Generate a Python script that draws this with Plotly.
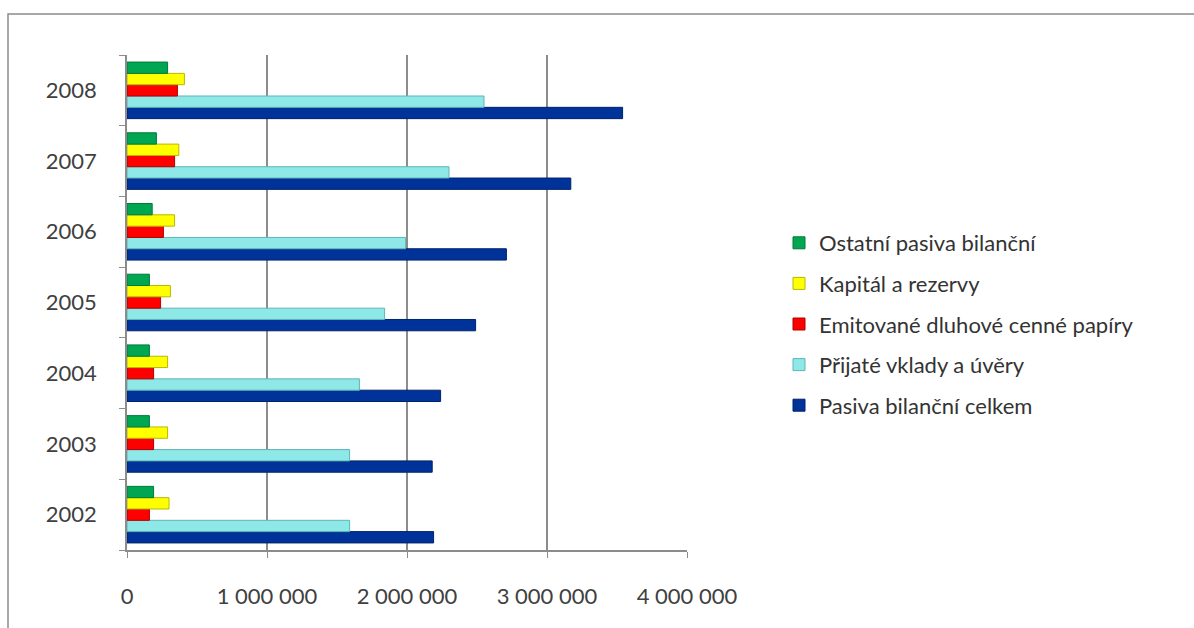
import plotly.graph_objects as go

years = ["2002", "2003", "2004", "2005", "2006", "2007", "2008"]
series_names = [
    "Pasiva bilanční celkem",
    "Přijaté vklady a úvěry",
    "Emitované dluhové cenné papíry",
    "Kapitál a rezervy",
    "Ostatní pasiva bilanční",
]
pasiva_celkem = [2190000, 2180000, 2240000, 2490000, 2710000, 3170000, 3540000]
vklady_uvery = [1590000, 1590000, 1660000, 1840000, 1990000, 2300000, 2550000]
emitovane = [160000, 190000, 190000, 240000, 260000, 340000, 360000]
kapital = [300000, 290000, 290000, 310000, 340000, 370000, 410000]
ostatni = [190000, 160000, 160000, 160000, 180000, 210000, 290000]

values = [pasiva_celkem, vklady_uvery, emitovane, kapital, ostatni]
colors = ["#003399", "#8EE8E8", "#FF0000", "#FFFF00", "#00A651"]
edges = ["#00226a", "#5fb5b5", "#b00000", "#b8b800", "#007a3a"]

x_ticks = [0, 1000000, 2000000, 3000000, 4000000]
x_tick_labels = ["0", "1 000 000", "2 000 000", "3 000 000", "4 000 000"]

FONT = "Lato"

fig = go.Figure()
n = len(series_names)
for i, (name, vals) in enumerate(zip(series_names, values)):
    fig.add_trace(go.Bar(
        y=years, x=vals, name=name, orientation="h",
        marker=dict(color=colors[i], line=dict(color=edges[i], width=1)),
        legendgroup=f"g{i}", legendrank=n - i,
    ))

L, R, T, B = 127, 507, 55, 78
W, H = 1194, 628
pw, ph = W - L - R, H - T - B

def px(xp):
    return (xp - L) / pw

def py(yp):
    return (H - B - yp) / ph

fig.update_layout(
    width=W, height=H,
    margin=dict(l=L, r=R, t=T, b=B, autoexpand=False),
    paper_bgcolor="white", plot_bgcolor="white",
    barmode="group", bargap=0.2, bargroupgap=0.0,
    font=dict(family=FONT, size=22, color="#404040"),
    showlegend=True,
    legend=dict(
        traceorder="grouped", tracegroupgap=9,
        x=px(779), y=py(222), xanchor="left", yanchor="top",
        font=dict(family=FONT, size=22, color="#333333"),
        itemwidth=30, bgcolor="rgba(0,0,0,0)",
    ),
    xaxis=dict(
        range=[0, 4000000], tickvals=x_ticks, ticktext=x_tick_labels,
        showgrid=True, gridcolor="#8c8c8c", gridwidth=1.5,
        showline=True, linecolor="#8c8c8c", linewidth=1.5,
        ticks="outside", ticklen=6, tickcolor="#8c8c8c",
        ticklabelstandoff=20, zeroline=False,
        tickfont=dict(family=FONT, size=22, color="#404040"),
    ),
    yaxis=dict(
        categoryorder="array", categoryarray=years,
        showline=True, linecolor="#8c8c8c", linewidth=1.5,
        ticks="outside", ticklen=6, tickcolor="#8c8c8c", tickson="boundaries",
        ticklabelstandoff=24, showgrid=False,
        tickfont=dict(family=FONT, size=22, color="#404040"),
    ),
    shapes=[
        dict(type="rect", xref="paper", yref="paper",
             x0=px(8), x1=px(1300), y0=py(14), y1=py(700),
             line=dict(color="#8c8c8c", width=1.5), layer="below"),
    ],
)

fig.write_html("out.html")
